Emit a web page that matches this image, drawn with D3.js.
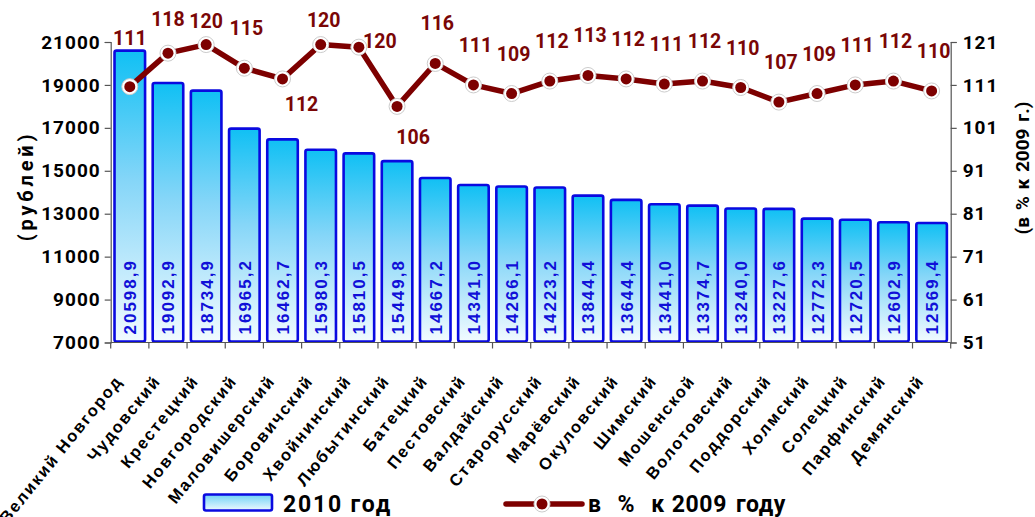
<!DOCTYPE html>
<html><head><meta charset="utf-8">
<script src="https://cdn.jsdelivr.net/npm/d3@7"></script>
<style>
html,body{margin:0;padding:0;background:#fff;}
svg{display:block;}
</style>
</head><body>
<svg id="chart" width="1035" height="517"></svg>
<script>
const categories = ["Великий Новгород","Чудовский","Крестецкий","Новгородский","Маловишерский","Боровичский","Хвойнинский","Любытинский","Батецкий","Пестовский","Валдайский","Старорусский","Марёвский","Окуловский","Шимский","Мошенской","Волотовский","Поддорский","Холмский","Солецкий","Парфинский","Демянский"];
const wages2010 = [20598.9,19092.9,18734.9,16965.2,16462.7,15980.3,15810.5,15449.8,14667.2,14341.0,14266.1,14223.2,13844.4,13644.4,13441.0,13374.7,13240.0,13227.6,12772.3,12720.5,12602.9,12569.4];
const pctTo2009 = [110.6,118.4,120.4,114.9,112.4,120.4,119.8,106.0,116.0,111.0,109.0,111.9,113.2,112.4,111.2,111.9,110.4,107.0,109.0,111.0,111.9,109.6];
const leftTicks = [7000,9000,11000,13000,15000,17000,19000,21000];
const rightTicks = [51,61,71,81,91,101,111,121];
const leftTitle = "(рублей)";
const rightTitle = "(в % к 2009 г.)";
const legendBar = "2010 год";
const legendLineWords = ["в", "%", "к", "2009", "году"];

const svg = d3.select("#chart");
const L = 110.7, R = 950.7, T = 42, B = 342.5;

const defs = svg.append("defs");
const grad = defs.append("linearGradient").attr("id","barGrad").attr("x1",0).attr("y1",0).attr("x2",0).attr("y2",1);
grad.append("stop").attr("offset","0%").attr("stop-color","#10c0f4");
grad.append("stop").attr("offset","45%").attr("stop-color","#86d6f8");
grad.append("stop").attr("offset","100%").attr("stop-color","#f2fbff");
const grad2 = defs.append("linearGradient").attr("id","legGrad").attr("x1",0).attr("y1",0).attr("x2",0).attr("y2",1);
grad2.append("stop").attr("offset","0%").attr("stop-color","#6fd2f6");
grad2.append("stop").attr("offset","100%").attr("stop-color","#eef9ff");

const x = d3.scaleBand().domain(categories).range([L,R]).paddingInner(0.2).paddingOuter(0.1);
const yL = d3.scaleLinear().domain([7000,21000]).range([B,T]);
const yR = d3.scaleLinear().domain([51,121]).range([B,T]);
const step = x.step();
const cx = c => x(c) + x.bandwidth()/2;

// bars
svg.append("g").selectAll("rect").data(categories).join("rect")
  .attr("x", c => x(c))
  .attr("width", x.bandwidth())
  .attr("y", (c,i) => yL(wages2010[i]))
  .attr("height", (c,i) => B - yL(wages2010[i]) - 1)
  .attr("rx", 2)
  .attr("fill","url(#barGrad)")
  .attr("stroke","#0a0ae0")
  .attr("stroke-width",2.6);

// bar value labels
const fmtBar = v => v.toFixed(1).replace(".", ",");
svg.append("g").selectAll("text").data(categories).join("text")
  .attr("transform", c => `translate(${cx(c)+6.5},${B-8}) rotate(-90)`)
  .attr("font-family","Liberation Sans, Arial, sans-serif")
  .attr("font-weight","bold")
  .attr("font-size",17)
  .attr("letter-spacing",2)
  .attr("fill","#1010d8")
  .text((c,i) => fmtBar(wages2010[i]));

// axes
const axisColor = "#555";
const gl = svg.append("g").attr("transform",`translate(${L},0)`)
  .call(d3.axisLeft(yL).tickValues(leftTicks).tickSize(6).tickPadding(4).tickFormat(d3.format("d")));
const gr = svg.append("g").attr("transform",`translate(${R},0)`)
  .call(d3.axisRight(yR).tickValues(rightTicks).tickSize(6).tickPadding(6).tickFormat(d3.format("d")));
[gl,gr].forEach(g => {
  g.select(".domain").attr("stroke",axisColor).attr("stroke-width",1.2);
  g.selectAll(".tick line").attr("stroke",axisColor).attr("stroke-width",1.2);
  g.selectAll(".tick text").attr("font-family","Roboto, sans-serif").attr("font-weight","bold")
    .attr("font-size",19).attr("fill","#000").attr("letter-spacing",1);
});
// bottom axis with ticks between categories
const gb = svg.append("g");
gb.append("line").attr("x1",L).attr("x2",R).attr("y1",B).attr("y2",B).attr("stroke",axisColor).attr("stroke-width",1.2);
gb.selectAll("line.t").data(d3.range(categories.length+1)).join("line").attr("class","t")
  .attr("x1", i => L + i*step).attr("x2", i => L + i*step)
  .attr("y1", B).attr("y2", B+6).attr("stroke",axisColor).attr("stroke-width",1.2);
gb.selectAll("text").data(categories).join("text")
  .attr("transform", c => `translate(${cx(c)-11},${B+35}) rotate(-51)`)
  .attr("text-anchor","end")
  .attr("dy","0.35em")
  .attr("font-family","Liberation Sans, Arial, sans-serif")
  .attr("font-weight","bold")
  .attr("font-size",16.5)
  .attr("letter-spacing",1.9)
  .attr("fill","#000")
  .text(c => c);

// axis titles
svg.append("text").attr("transform","translate(33,186) rotate(-90)").attr("text-anchor","middle")
  .attr("font-family","Roboto, sans-serif").attr("font-weight","bold").attr("font-size",20).attr("letter-spacing",3.8)
  .text(leftTitle);
svg.append("text").attr("transform","translate(1029,168) rotate(-90)").attr("text-anchor","middle")
  .attr("font-family","Roboto, sans-serif").attr("font-weight","bold").attr("font-size",19).attr("word-spacing",2)
  .text(rightTitle);

// line
const lineColor = "#7d0000";
const line = d3.line().x((d,i) => cx(categories[i])).y(d => yR(d));
svg.append("path").datum(pctTo2009).attr("d", line).attr("fill","none")
  .attr("stroke",lineColor).attr("stroke-width",5.5).attr("stroke-linejoin","round");
const pts = svg.append("g").selectAll("g").data(pctTo2009).join("g")
  .attr("transform",(d,i) => `translate(${cx(categories[i])},${yR(d)})`);
pts.append("circle").attr("r",8).attr("fill","#fff").attr("stroke","#ccc").attr("stroke-width",1);
pts.append("circle").attr("r",5.5).attr("fill",lineColor);

// line labels (placement tweaks as in the original)
const place = {0:[0,-42],1:[0,-27],2:[0,-17],4:[19,32],5:[3,-18],6:[21,1],7:[16,38]};
svg.append("g").selectAll("text").data(pctTo2009).join("text")
  .attr("x",(d,i) => cx(categories[i]) + (place[i] ? place[i][0] : 2))
  .attr("y",(d,i) => yR(d) + (place[i] ? place[i][1] : -33))
  .attr("text-anchor","middle")
  .attr("font-family","Roboto, sans-serif").attr("font-weight","bold").attr("font-size",19.5)
  .attr("fill","#7a0606")
  .text(d => Math.round(d));

// legend
svg.append("rect").attr("x",204).attr("y",494.5).attr("width",68).attr("height",16).attr("rx",2)
  .attr("fill","url(#legGrad)").attr("stroke","#0a0ae0").attr("stroke-width",2.6);
svg.append("text").attr("x",283).attr("y",512).attr("font-family","Roboto, sans-serif").attr("font-weight","bold")
  .attr("font-size",23).attr("letter-spacing",1.8).text(legendBar);
svg.append("line").attr("x1",506).attr("x2",582).attr("y1",504).attr("y2",504).attr("stroke",lineColor).attr("stroke-width",5.5).attr("stroke-linecap","round");
svg.append("circle").attr("cx",542).attr("cy",504).attr("r",8).attr("fill","#fff").attr("stroke","#ccc");
svg.append("circle").attr("cx",542).attr("cy",504).attr("r",5.5).attr("fill",lineColor);
const lt = svg.append("text").attr("x",588).attr("y",512).attr("font-family","Roboto, sans-serif").attr("font-weight","bold")
  .attr("font-size",23).attr("letter-spacing",0.6);
const wordGaps = [0, 16, 16, 7, 9];
legendLineWords.forEach((w,i) => lt.append("tspan").attr("dx", wordGaps[i]).text(w));
</script>
</body></html>
